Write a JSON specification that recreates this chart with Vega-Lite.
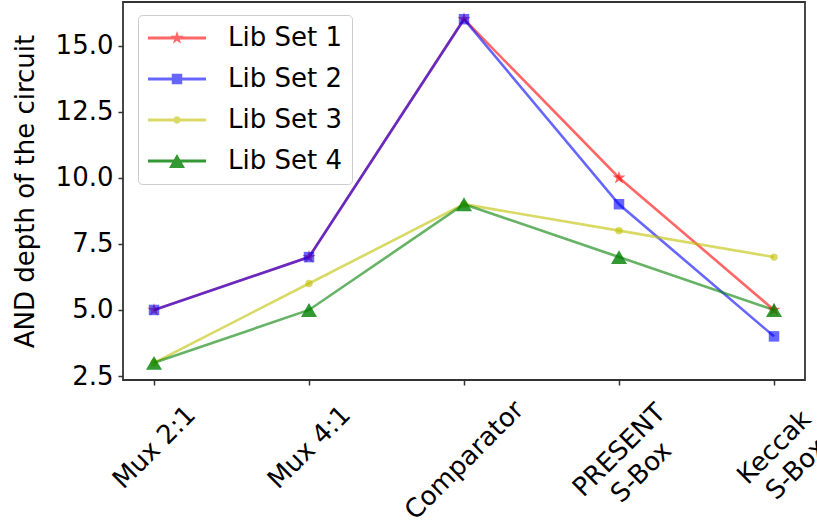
{
  "$schema": "https://vega.github.io/schema/vega-lite/v6.json",
  "width": 682,
  "height": 378,
  "autosize": {"type": "none"},
  "padding": {"left": 123, "top": 2, "right": 12, "bottom": 149},
  "background": "white",
  "config": {
    "font": "DejaVu Sans",
    "view": {"stroke": "#333333", "strokeWidth": 1.8}
  },
  "data": {
    "values": [
      {"circuit": "Mux 2:1", "series": "Lib Set 1", "depth": 5},
      {"circuit": "Mux 4:1", "series": "Lib Set 1", "depth": 7},
      {"circuit": "Comparator", "series": "Lib Set 1", "depth": 16},
      {"circuit": "PRESENT S-Box", "series": "Lib Set 1", "depth": 10},
      {"circuit": "Keccak S-Box", "series": "Lib Set 1", "depth": 5},
      {"circuit": "Mux 2:1", "series": "Lib Set 2", "depth": 5},
      {"circuit": "Mux 4:1", "series": "Lib Set 2", "depth": 7},
      {"circuit": "Comparator", "series": "Lib Set 2", "depth": 16},
      {"circuit": "PRESENT S-Box", "series": "Lib Set 2", "depth": 9},
      {"circuit": "Keccak S-Box", "series": "Lib Set 2", "depth": 4},
      {"circuit": "Mux 2:1", "series": "Lib Set 3", "depth": 3},
      {"circuit": "Mux 4:1", "series": "Lib Set 3", "depth": 6},
      {"circuit": "Comparator", "series": "Lib Set 3", "depth": 9},
      {"circuit": "PRESENT S-Box", "series": "Lib Set 3", "depth": 8},
      {"circuit": "Keccak S-Box", "series": "Lib Set 3", "depth": 7},
      {"circuit": "Mux 2:1", "series": "Lib Set 4", "depth": 3},
      {"circuit": "Mux 4:1", "series": "Lib Set 4", "depth": 5},
      {"circuit": "Comparator", "series": "Lib Set 4", "depth": 9},
      {"circuit": "PRESENT S-Box", "series": "Lib Set 4", "depth": 7},
      {"circuit": "Keccak S-Box", "series": "Lib Set 4", "depth": 5}
    ]
  },
  "encoding": {
    "x": {
      "field": "circuit",
      "type": "nominal",
      "sort": ["Mux 2:1", "Mux 4:1", "Comparator", "PRESENT S-Box", "Keccak S-Box"],
      "scale": {"type": "point", "padding": 0.2},
      "axis": {
        "title": null,
        "labelAngle": -45,
        "labelAlign": "center",
        "labelBaseline": "middle",
        "labelFontSize": 26,
        "labelColor": "black",
        "labelLineHeight": 31,
        "labelOverlap": false,
        "labelExpr": "datum.label == 'PRESENT S-Box' ? ['PRESENT', 'S-Box'] : datum.label == 'Keccak S-Box' ? ['Keccak', 'S-Box'] : datum.label",
        "labelPadding": {
          "condition": [
            {"test": "datum.value === 'Comparator'", "value": 75},
            {"test": "datum.value === 'PRESENT S-Box'", "value": 65}
          ],
          "value": 62
        },
        "tickSize": 5,
        "tickColor": "#333333",
        "tickWidth": 1.5,
        "domain": false,
        "grid": false
      }
    },
    "y": {
      "field": "depth",
      "type": "quantitative",
      "scale": {"domain": [2.35, 16.65], "nice": false, "zero": false},
      "axis": {
        "title": "AND depth of the circuit",
        "titleFontSize": 26,
        "titleFontWeight": "normal",
        "titleColor": "black",
        "titlePadding": 17,
        "values": [2.5, 5, 7.5, 10, 12.5, 15],
        "format": ".1f",
        "labelFontSize": 26,
        "labelColor": "black",
        "labelPadding": 5,
        "tickSize": 5,
        "tickColor": "#333333",
        "tickWidth": 1.5,
        "domain": false,
        "grid": false
      }
    }
  },
  "layer": [
    {
      "mark": {"type": "line", "strokeWidth": 2.6},
      "encoding": {
        "color": {
          "field": "series",
          "type": "nominal",
          "scale": {
            "domain": ["Lib Set 1", "Lib Set 2", "Lib Set 3", "Lib Set 4"],
            "range": ["#ff0000", "#0000ff", "#bfbf00", "#008000"]
          },
          "legend": {
            "title": null,
            "orient": "none",
            "legendX": 15,
            "legendY": 13,
            "padding": 10,
            "strokeColor": "#cccccc",
            "fillColor": "rgba(255,255,255,0.8)",
            "cornerRadius": 4,
            "labelFontSize": 26,
            "labelColor": "black",
            "labelOffset": 38,
            "symbolOffset": 16,
            "rowPadding": 15,
            "symbolSize": 676,
            "symbolStrokeWidth": 0,
            "encode": {
              "symbols": {
                "update": {
                  "shape": {"signal": "datum.value === 'Lib Set 1' ? 'M-2.231,-0.112H2.231V0.112H-2.231Z M0,-0.535L0.12,-0.165L0.509,-0.165L0.194,0.062L0.315,0.433L0,0.205L-0.315,0.433L-0.194,0.062L-0.509,-0.165L-0.12,-0.165Z' : datum.value === 'Lib Set 2' ? 'M-2.231,-0.112H2.231V0.112H-2.231Z M-0.402,-0.402H0.402V0.402H-0.402Z' : datum.value === 'Lib Set 3' ? 'M-2.231,-0.112H2.231V0.112H-2.231Z M0.279,0A0.279,0.279,0,1,1,-0.279,0A0.279,0.279,0,1,1,0.279,0Z' : 'M-2.231,-0.112H2.231V0.112H-2.231Z M0,-0.535L0.616,0.535L-0.616,0.535Z'"},
                  "fill": {"signal": "datum.value === 'Lib Set 1' ? '#ff0000' : datum.value === 'Lib Set 2' ? '#0000ff' : datum.value === 'Lib Set 3' ? '#bfbf00' : '#008000'"},
                  "fillOpacity": {"signal": "datum.value === 'Lib Set 4' ? 0.8 : 0.6"},
                  "stroke": {"value": "transparent"},
                  "strokeWidth": {"value": 0},
                  "opacity": {"value": 1}
                }
              }
            }
          }
        },
        "opacity": {
          "field": "series",
          "type": "nominal",
          "scale": {
            "domain": ["Lib Set 1", "Lib Set 2", "Lib Set 3", "Lib Set 4", "-o"],
            "range": [0.6, 0.6]
          },
          "legend": null
        }
      }
    },
    {
      "transform": [{"filter": "datum.series === 'Lib Set 1'"}],
      "mark": {"type": "point", "filled": true, "strokeWidth": 0, "color": "#ff0000", "opacity": 0.6, "size": 196, "shape": "M0,-1L0.2245,-0.309L0.951,-0.309L0.363,0.118L0.588,0.809L0,0.382L-0.588,0.809L-0.363,0.118L-0.951,-0.309L-0.2245,-0.309Z"}
    },
    {
      "transform": [{"filter": "datum.series === 'Lib Set 2'"}],
      "mark": {"type": "point", "filled": true, "strokeWidth": 0, "color": "#0000ff", "opacity": 0.6, "size": 110, "shape": "square"}
    },
    {
      "transform": [{"filter": "datum.series === 'Lib Set 3'"}],
      "mark": {"type": "point", "filled": true, "strokeWidth": 0, "color": "#bfbf00", "opacity": 0.6, "size": 55, "shape": "circle"}
    },
    {
      "transform": [{"filter": "datum.series === 'Lib Set 4'"}],
      "mark": {"type": "point", "filled": true, "strokeWidth": 0, "color": "#008000", "opacity": 0.8, "size": 256, "shape": "triangle-up"}
    }
  ]
}
